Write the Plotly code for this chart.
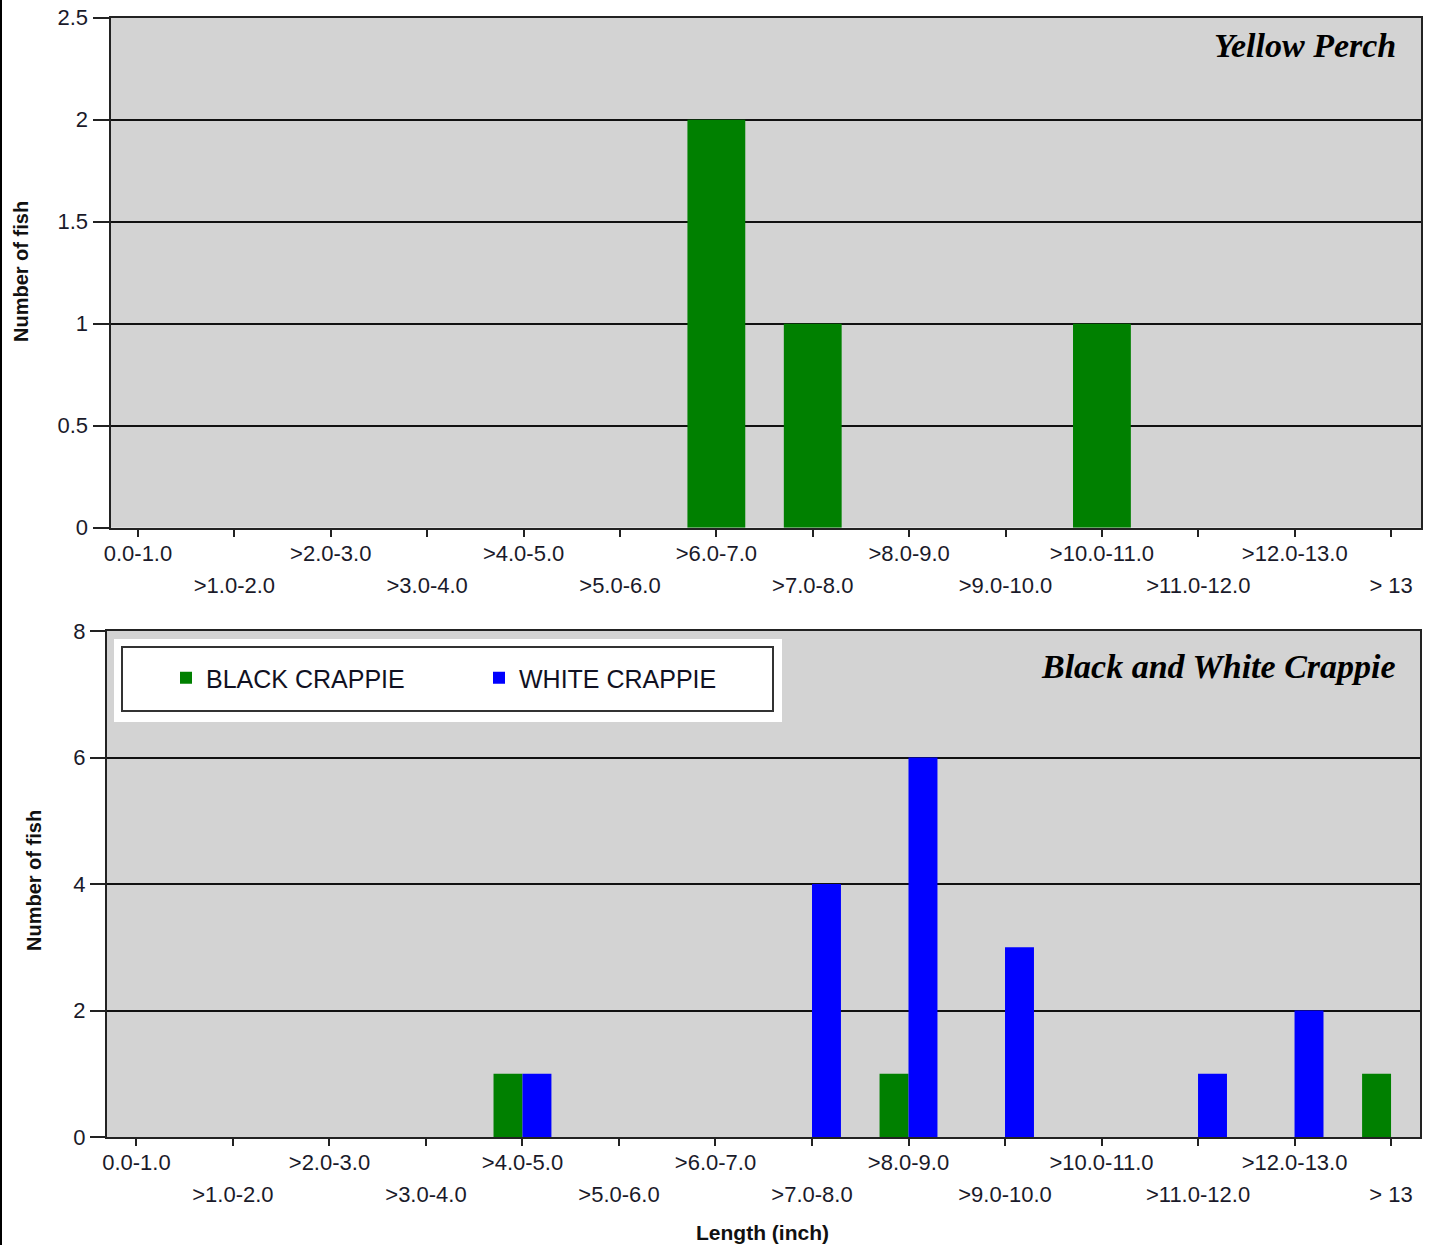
import plotly.graph_objects as go

# ---------------- data ----------------
categories = ["0.0-1.0", ">1.0-2.0", ">2.0-3.0", ">3.0-4.0", ">4.0-5.0", ">5.0-6.0",
              ">6.0-7.0", ">7.0-8.0", ">8.0-9.0", ">9.0-10.0", ">10.0-11.0",
              ">11.0-12.0", ">12.0-13.0", "> 13"]
yellow_perch = [0, 0, 0, 0, 0, 0, 2, 1, 0, 0, 1, 0, 0, 0]
black_crappie = [0, 0, 0, 0, 1, 0, 0, 0, 1, 0, 0, 0, 0, 1]
white_crappie = [0, 0, 0, 0, 1, 0, 0, 4, 6, 3, 0, 1, 2, 0]
top_y_ticks = [0, 0.5, 1, 1.5, 2, 2.5]
bottom_y_ticks = [0, 2, 4, 6, 8]

# ---------------- layout helpers ----------------
W, H = 1430, 1245
def fx(p):
    return p / W
def fy(p):
    return 1 - p / H

pos = list(range(len(categories)))
row1_text = [c if i % 2 == 0 else "" for i, c in enumerate(categories)]
row2_vals = [i for i in pos if i % 2 == 1]
row2_text = [categories[i] for i in row2_vals]

GREEN = "#008000"
BLUE = "#0000ff"
AX = "#222222"
TICKFONT = dict(family="Liberation Sans, Arial, sans-serif", size=22, color="#1a1a2a")

fig = go.Figure()
fig.add_trace(go.Bar(x=pos, y=yellow_perch, name="YELLOW PERCH", showlegend=False,
                     marker=dict(color=GREEN, line=dict(width=0)),
                     xaxis="x", yaxis="y", hoverinfo="x+y"))
fig.add_trace(go.Bar(x=pos, y=black_crappie, name="BLACK CRAPPIE",
                     marker=dict(color=GREEN, line=dict(width=0)),
                     xaxis="x2", yaxis="y2"))
fig.add_trace(go.Bar(x=pos, y=white_crappie, name="WHITE CRAPPIE",
                     marker=dict(color=BLUE, line=dict(width=0)),
                     xaxis="x2", yaxis="y2"))
# empty helper traces so that the second-row label axes are drawn
fig.add_trace(go.Scatter(x=[], y=[], xaxis="x3", yaxis="y", showlegend=False, hoverinfo="skip"))
fig.add_trace(go.Scatter(x=[], y=[], xaxis="x4", yaxis="y2", showlegend=False, hoverinfo="skip"))

top_dom_x = [fx(110.5), fx(1421)]
bot_dom_x = [fx(107), fx(1420)]
top_range = [-0.285, 13.31]
bot_range = [-0.305, 13.30]

def xaxis_main(domain, rng, anchor):
    return dict(domain=domain, range=rng, anchor=anchor,
                tickmode="array", tickvals=pos, ticktext=row1_text,
                ticks="outside", ticklen=7, tickwidth=2, tickcolor=AX,
                showline=True, linecolor=AX, linewidth=2, mirror=True,
                showgrid=False, zeroline=False, tickfont=TICKFONT,
                ticklabelstandoff=-2, tickangle=0, fixedrange=True)

def xaxis_row2(overlay, rng, anchor):
    return dict(overlaying=overlay, range=rng, anchor=anchor, side="bottom",
                tickmode="array", tickvals=row2_vals, ticktext=row2_text,
                ticks="", showline=False, showgrid=False, zeroline=False,
                tickfont=TICKFONT, ticklabelstandoff=42, tickangle=0, fixedrange=True)

def yaxis(domain, rng, tickvals, anchor, ticklen):
    return dict(domain=domain, range=rng, anchor=anchor,
                tickmode="array", tickvals=tickvals,
                ticks="outside", ticklen=ticklen, tickwidth=2, tickcolor=AX,
                showline=True, linecolor=AX, linewidth=2, mirror=True,
                showgrid=True, gridcolor="#111111", gridwidth=1.5, zeroline=False,
                tickfont=TICKFONT, ticklabelstandoff=0, fixedrange=True)

fig.update_layout(
    width=W, height=H,
    margin=dict(l=0, r=0, t=0, b=0, autoexpand=False),
    paper_bgcolor="white", plot_bgcolor="#d3d3d3",
    barmode="group", bargap=0.4, bargroupgap=0,
    xaxis=xaxis_main(top_dom_x, top_range, "y"),
    yaxis=yaxis([fy(527.7), fy(17.7)], [0, 2.5], top_y_ticks, "x", 16),
    xaxis2=xaxis_main(bot_dom_x, bot_range, "y2"),
    yaxis2=yaxis([fy(1137), fy(631)], [0, 8], bottom_y_ticks, "x2", 15),
    xaxis3=xaxis_row2("x", top_range, "y"),
    xaxis4=xaxis_row2("x2", bot_range, "y2"),
    showlegend=True,
    legend=dict(orientation="h", x=fx(166), y=fy(678), xanchor="left", yanchor="middle",
                bgcolor="rgba(0,0,0,0)", borderwidth=0, entrywidth=268,
                font=dict(family="Liberation Sans, Arial, sans-serif",
                          size=25, color="#111122")),
)

# legend frame (white surround + dark border)
fig.add_shape(type="rect", xref="paper", yref="paper", layer="above",
              x0=fx(114), x1=fx(782), y0=fy(722), y1=fy(639),
              fillcolor="white", line=dict(width=0))
fig.add_shape(type="rect", xref="paper", yref="paper", layer="above",
              x0=fx(122), x1=fx(773), y0=fy(711), y1=fy(647),
              fillcolor="white", line=dict(color="#333333", width=2))
# dark edge on the left of the image
fig.add_shape(type="line", xref="paper", yref="paper", x0=fx(1), x1=fx(1), y0=0, y1=1,
              line=dict(color="black", width=2))

title_font = dict(family="Liberation Serif, DejaVu Serif, serif", size=34, color="black",
                  weight="bold", style="italic")
fig.add_annotation(text="Yellow Perch", xref="paper", yref="paper",
                   x=fx(1398), y=fy(46), xanchor="right", yanchor="middle",
                   showarrow=False, font=title_font)
fig.add_annotation(text="Black and White Crappie", xref="paper", yref="paper",
                   x=fx(1398), y=fy(666), xanchor="right", yanchor="middle",
                   showarrow=False, font=title_font)

label_font = dict(family="Liberation Sans, Arial, sans-serif", size=20, color="#111111",
                  weight="bold")
fig.add_annotation(text="Number of fish", xref="paper", yref="paper",
                   x=fx(21), y=fy(272), xanchor="center", yanchor="middle",
                   textangle=-90, showarrow=False, font=label_font)
fig.add_annotation(text="Number of fish", xref="paper", yref="paper",
                   x=fx(34), y=fy(881), xanchor="center", yanchor="middle",
                   textangle=-90, showarrow=False, font=label_font)
fig.add_annotation(text="Length (inch)", xref="paper", yref="paper",
                   x=fx(762), y=fy(1232), xanchor="center", yanchor="middle",
                   showarrow=False, font=dict(family="Liberation Sans, Arial, sans-serif",
                                              size=21, color="#111111", weight="bold"))

fig.write_html("out.html",
               config={"displayModeBar": False},
               post_script="document.body.style.margin='0px';"
                           "document.documentElement.style.overflow='hidden';")
